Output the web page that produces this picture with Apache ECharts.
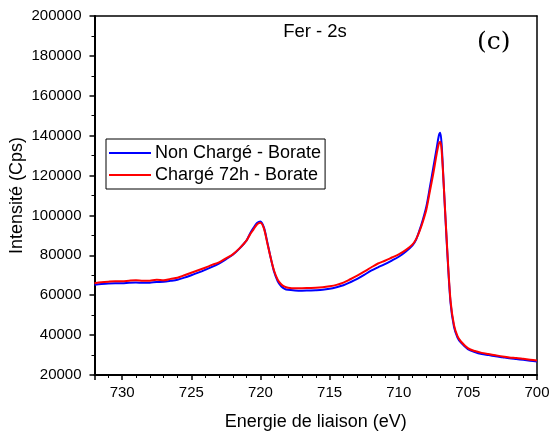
<!DOCTYPE html>
<html><head><meta charset="utf-8">
<script src="https://cdn.jsdelivr.net/npm/echarts@6/dist/echarts.min.js"></script>
<style>html,body{margin:0;padding:0;background:#fff}#c{width:552px;height:432px}</style>
</head><body><div id="c"></div>
<script>
const energy = [732,731.5,731,730.5,730,729.5,729,728.5,728,727.5,727,726.5,726,725.5,725,724.5,724,723.5,723,722.5,722,721.5,721,720.75,720.5,720.25,720,719.75,719.5,719.25,719,718.75,718.5,718.25,718,717.5,717,716.5,716,715.5,715,714.5,714,713.5,713,712.5,712,711.5,711,710.5,710,709.5,709,708.75,708.5,708.25,708,707.75,707.5,707.25,707.1,707,706.9,706.75,706.5,706.25,706,705.75,705.5,705,704.5,704,703.5,703,702.5,702,701.5,701,700.5,700];
const nonCharge = [65200,65600,65900,66000,66000,66300,66400,66200,66300,66600,66700,67200,67800,68800,70000,71300,72700,74200,75900,78000,80300,83500,87500,91000,93800,96200,97000,94000,86500,78500,71500,67000,64500,63200,62700,62400,62300,62400,62500,62700,63200,64000,65000,66500,68200,70200,72300,74000,75600,77400,79300,81800,85000,87800,92500,98000,104500,114000,124000,134000,140000,141500,136000,116000,83000,56000,44000,38800,36200,33000,31500,30500,30000,29400,28900,28400,28000,27600,27200,26800];
const charge72h = [66000,66500,66800,67000,67000,67300,67500,67200,67300,67700,67500,68200,68800,70000,71300,72500,73800,75200,76500,78500,80500,83600,87500,90500,93000,95500,96300,93500,86000,78500,72000,67800,65500,64300,63800,63500,63500,63600,63700,64000,64500,65200,66300,68000,69800,71800,73900,75900,77300,78900,80500,82600,85500,88000,92000,97000,103000,112000,121000,131000,136000,137000,133000,116000,84000,57000,45000,39500,36800,33500,32000,31100,30500,29900,29300,28800,28500,28100,27700,27300];
const seriesNames = ['Non Chargé - Borate','Chargé 72h - Borate'];
const xTicks = [730,725,720,715,710,705,700];
const yTicks = [20000,40000,60000,80000,100000,120000,140000,160000,180000,200000];

const chart = echarts.init(document.getElementById('c'));
const font = 'Liberation Sans, Arial, sans-serif';
const pair = (ys) => energy.map((e,i)=>[e, ys[i]]);
chart.setOption({
  animation:false,
  grid:{left:94.5,right:15,top:16,bottom:57,containLabel:false,outerBoundsMode:'none'},
  title:{text:'Fer - 2s',left:310,top:17,textAlign:'center',
    textStyle:{fontFamily:font,fontSize:18.5,fontWeight:'normal',color:'#000'}},
  graphic:[{type:'text',left:477,top:30,style:{text:'(c)',font:'25px "DejaVu Serif", serif',fill:'#000'}}],
  legend:{
    left:106,top:139,orient:'vertical',itemGap:4,itemWidth:42,itemHeight:2,
    padding:[5,4,5,3],borderColor:'#000',borderWidth:1,backgroundColor:'#fff',
    icon:'rect',
    textStyle:{fontFamily:font,fontSize:18,color:'#000',padding:[0,0,0,-1]},
    data:seriesNames
  },
  xAxis:[{
    type:'value',min:700,max:732,inverse:true,interval:5,
    name:'Energie de liaison (eV)',nameLocation:'middle',nameGap:38,nameMoveOverlap:false,
    nameTextStyle:{fontFamily:font,fontSize:18,color:'#000'},
    axisLine:{show:true,onZero:false,lineStyle:{color:'#000',width:2}},
    axisTick:{show:true,inside:false,length:5,lineStyle:{color:'#000',width:1.5}},
    minorTick:{show:true,splitNumber:5,length:3,lineStyle:{color:'#000',width:1}},
    axisLabel:{fontFamily:font,fontSize:15,color:'#000',margin:10,
      formatter:(v)=> xTicks.includes(v)? String(v):''},
    splitLine:{show:false}
  },{
    type:'value',min:700,max:732,inverse:true,position:'top',
    axisLine:{show:true,onZero:false,lineStyle:{color:'#000',width:1.5}},
    axisTick:{show:false},axisLabel:{show:false},splitLine:{show:false}
  }],
  yAxis:[{
    type:'value',min:20000,max:200000,interval:20000,
    name:'Intensité (Cps)',nameLocation:'middle',nameGap:68,nameMoveOverlap:false,
    nameTextStyle:{fontFamily:font,fontSize:18,color:'#000'},
    axisLine:{show:true,onZero:false,lineStyle:{color:'#000',width:2}},
    axisTick:{show:true,inside:false,length:5,lineStyle:{color:'#000',width:1.5}},
    minorTick:{show:true,splitNumber:2,length:3,lineStyle:{color:'#000',width:1}},
    axisLabel:{fontFamily:font,fontSize:15,color:'#000',margin:13,
      formatter:(v)=> yTicks.includes(v)? String(v):''},
    splitLine:{show:false}
  },{
    type:'value',min:20000,max:200000,position:'right',
    axisLine:{show:true,onZero:false,lineStyle:{color:'#000',width:1.5}},
    axisTick:{show:false},axisLabel:{show:false},splitLine:{show:false}
  }],
  series:[
    {name:seriesNames[0],type:'line',data:pair(nonCharge),showSymbol:false,smooth:0.3,
      lineStyle:{color:'#0000ff',width:2},itemStyle:{color:'#0000ff'}},
    {name:seriesNames[1],type:'line',data:pair(charge72h),showSymbol:false,smooth:0.3,
      lineStyle:{color:'#ff0000',width:2},itemStyle:{color:'#ff0000'}}
  ]
});
</script></body></html>
